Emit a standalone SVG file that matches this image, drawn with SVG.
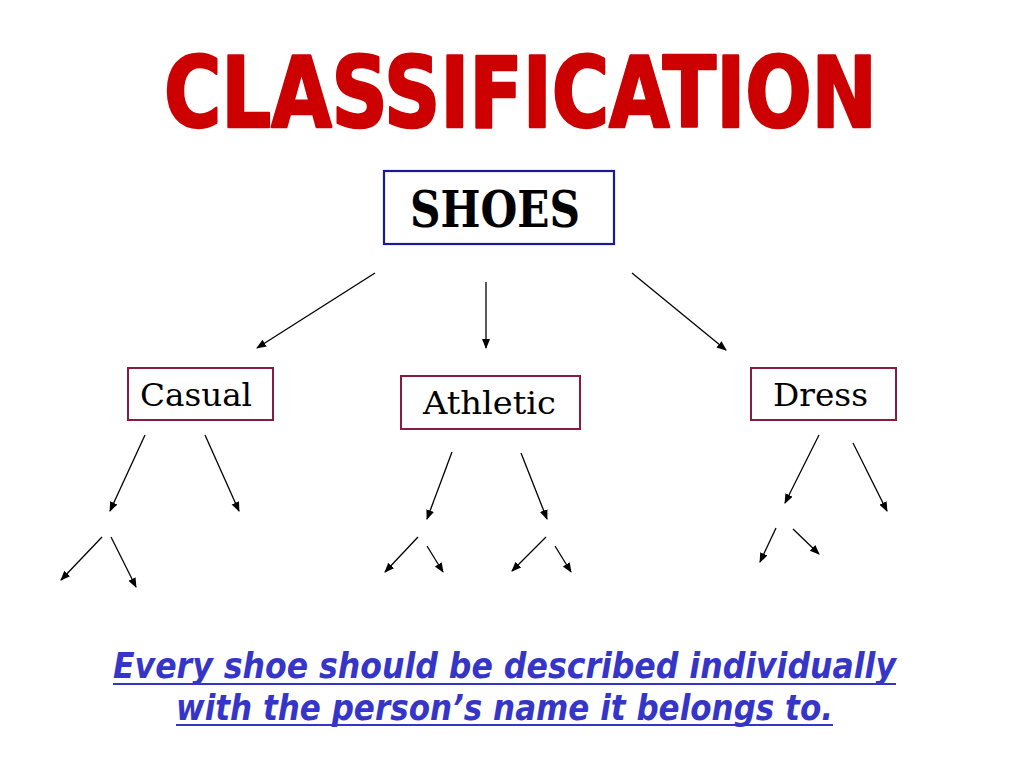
<svg xmlns="http://www.w3.org/2000/svg" width="1024" height="768" viewBox="0 0 1024 768">
<defs>
<marker id="ah" viewBox="0 0 10 10" refX="9" refY="5" markerWidth="10" markerHeight="10" markerUnits="userSpaceOnUse" orient="auto">
<path d="M0,1 L10,5 L0,9 Z" fill="#000"/>
</marker>
</defs>
<style>
.title{font-family:"DejaVu Sans Condensed","DejaVu Sans","Liberation Sans",sans-serif;font-weight:bold;font-size:98px;fill:#CC0000;stroke:#CC0000;stroke-width:2.5;stroke-linejoin:round}
.box1{fill:#fff;stroke:#1a1a99;stroke-width:2.2}
.box2{fill:#fff;stroke:#8B1A40;stroke-width:2}
.lbl{font-family:"DejaVu Serif","Liberation Serif",serif;fill:#000}
.conn line{stroke:#000;stroke-width:1.3;marker-end:url(#ah)}
.note{font-family:"DejaVu Sans Condensed","DejaVu Sans","Liberation Sans",sans-serif;font-style:italic;font-weight:bold;font-size:35px;fill:#3535C8}
.ul{stroke:#3535C8;stroke-width:2}
</style>
<rect width="1024" height="768" fill="#fff"/>
<text class="title" x="164" y="127" textLength="713" lengthAdjust="spacingAndGlyphs">CLASSIFICATION</text>

<g id="shoes">
<rect class="box1" x="384" y="171" width="230" height="73"/>
<text class="lbl" x="410" y="227" font-size="50" font-weight="bold" textLength="170" lengthAdjust="spacingAndGlyphs">SHOES</text>
</g>
<g id="casual">
<rect class="box2" x="128" y="368" width="145" height="52"/>
<text class="lbl" x="140" y="406" font-size="32" textLength="112" lengthAdjust="spacingAndGlyphs">Casual</text>
</g>
<g id="athletic">
<rect class="box2" x="401" y="376" width="179" height="53"/>
<text class="lbl" x="423" y="414" font-size="32" textLength="133" lengthAdjust="spacingAndGlyphs">Athletic</text>
</g>
<g id="dress">
<rect class="box2" x="751" y="368" width="145" height="52"/>
<text class="lbl" x="773" y="406" font-size="32" textLength="95" lengthAdjust="spacingAndGlyphs">Dress</text>
</g>

<g id="connectors" class="conn">
<line x1="375" y1="273" x2="257" y2="348"/>
<line x1="486" y1="282" x2="486" y2="348"/>
<line x1="632" y1="273" x2="726" y2="350"/>
<line x1="145" y1="435" x2="110" y2="511"/>
<line x1="205" y1="435" x2="239" y2="511"/>
<line x1="102" y1="537" x2="61" y2="580"/>
<line x1="111" y1="537" x2="136" y2="587"/>
<line x1="452" y1="452" x2="427" y2="519"/>
<line x1="521" y1="453" x2="547" y2="519"/>
<line x1="418" y1="537" x2="385" y2="572"/>
<line x1="427" y1="546" x2="443" y2="572"/>
<line x1="546" y1="537" x2="512" y2="571"/>
<line x1="555" y1="546" x2="571" y2="572"/>
<line x1="819" y1="435" x2="785" y2="503"/>
<line x1="853" y1="443" x2="887" y2="511"/>
<line x1="776" y1="528" x2="760" y2="562"/>
<line x1="793" y1="529" x2="819" y2="554"/>
</g>

<g id="note">
<text class="note" x="113" y="678" textLength="783" lengthAdjust="spacingAndGlyphs">Every shoe should be described individually</text>
<line class="ul" x1="113" y1="684" x2="896" y2="684"/>
<text class="note" x="176" y="720" textLength="657" lengthAdjust="spacingAndGlyphs">with the person’s name it belongs to.</text>
<line class="ul" x1="176" y1="725" x2="833" y2="725"/>
</g>
</svg>
